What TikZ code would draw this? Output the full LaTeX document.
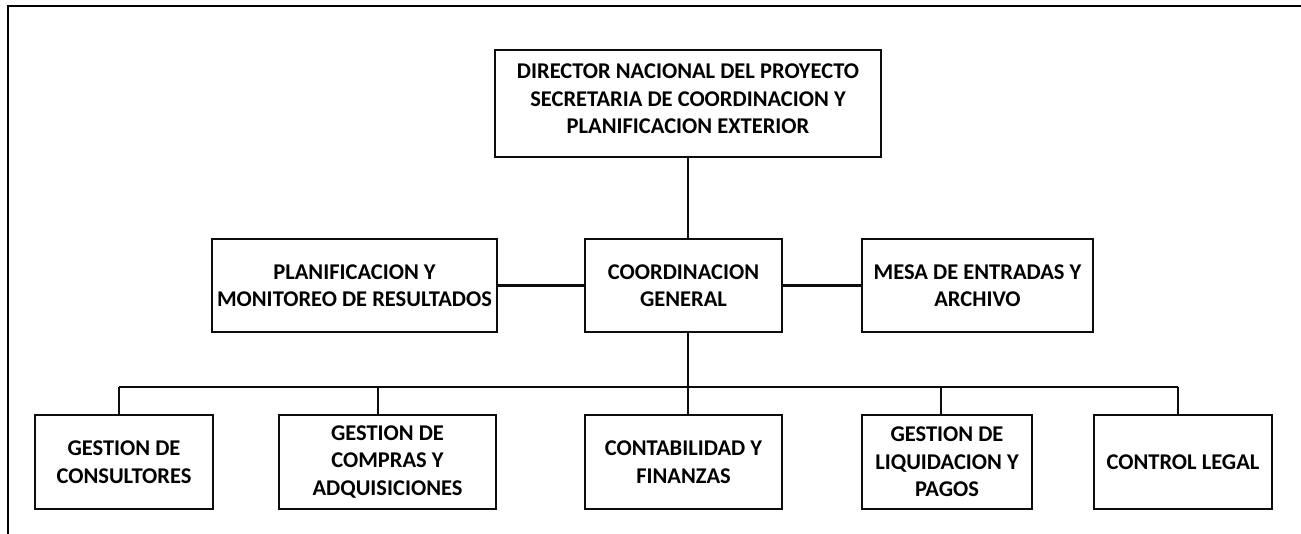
\documentclass[tikz,border=0pt]{standalone}
\usepackage{fontspec}
\setmainfont{Carlito}
\usepackage{tikz}
\definecolor{box-black}{gray}{0.05}
\newcommand*\orgfont{\fontsize{22.5}{27.5}\selectfont\bfseries}

\begin{document}
\begin{tikzpicture}[x=1pt,y=-1pt,
		unit/.style={draw=box-black,line width=2.2pt,align=center,font=\orgfont,inner sep=0pt,minimum height=93pt},
		link/.style={draw=box-black,line width=2.2pt}]
	\useasboundingbox (0,0) rectangle (1301,533);
	% frame
	\draw[line width=2.8pt,line cap=rect] (1301,6) -- (8,6) -- (8,533);
	% top
	\node[unit,minimum width=386pt,minimum height=107pt] (dir) at (688,103.5) {DIRECTOR NACIONAL DEL PROYECTO\\SECRETARIA DE COORDINACION Y\\PLANIFICACION EXTERIOR\rule[-9pt]{0pt}{1pt}};
	% middle row
	\node[unit,minimum width=285pt] (plan) at (354.5,285.5) {PLANIFICACION Y\\MONITOREO DE RESULTADOS};
	\node[unit,minimum width=197pt] (coord) at (683.5,285.5) {COORDINACION\\GENERAL};
	\node[unit,minimum width=231pt] (mesa) at (977.5,285.5) {MESA DE ENTRADAS Y\\ARCHIVO};
	% bottom row
	\node[unit,minimum width=178pt,minimum height=94pt] (cons) at (124,462) {GESTION DE\\CONSULTORES};
	\node[unit,minimum width=217pt,minimum height=94pt] (comp) at (387.5,462) {GESTION DE\\COMPRAS Y\\ADQUISICIONES};
	\node[unit,minimum width=197pt,minimum height=94pt] (cont) at (683.5,462) {CONTABILIDAD Y\\FINANZAS};
	\node[unit,minimum width=170pt,minimum height=94pt] (liq) at (947,462) {GESTION DE\\LIQUIDACION Y\\PAGOS};
	\node[unit,minimum width=178pt,minimum height=94pt] (leg) at (1183,462) {CONTROL LEGAL};
	% bus
	\coordinate (b1) at (119,387);
	\coordinate (b2) at (378,387);
	\coordinate (b3) at (688,387);
	\coordinate (b4) at (941,387);
	\coordinate (b5) at (1178,387);
	\draw[link] (dir.south) -- (dir.south |- coord.north);
	\draw[link] (plan.east) -- (coord.west);
	\draw[link] (coord.east) -- (mesa.west);
	\draw[link] (b3 |- coord.south) -- (b3);
	\draw[link] (b1) -- (b5);
	\draw[link] (b1) -- (b1 |- cons.north);
	\draw[link] (b2) -- (b2 |- comp.north);
	\draw[link] (b3) -- (b3 |- cont.north);
	\draw[link] (b4) -- (b4 |- liq.north);
	\draw[link] (b5) -- (b5 |- leg.north);
\end{tikzpicture}
\end{document}
